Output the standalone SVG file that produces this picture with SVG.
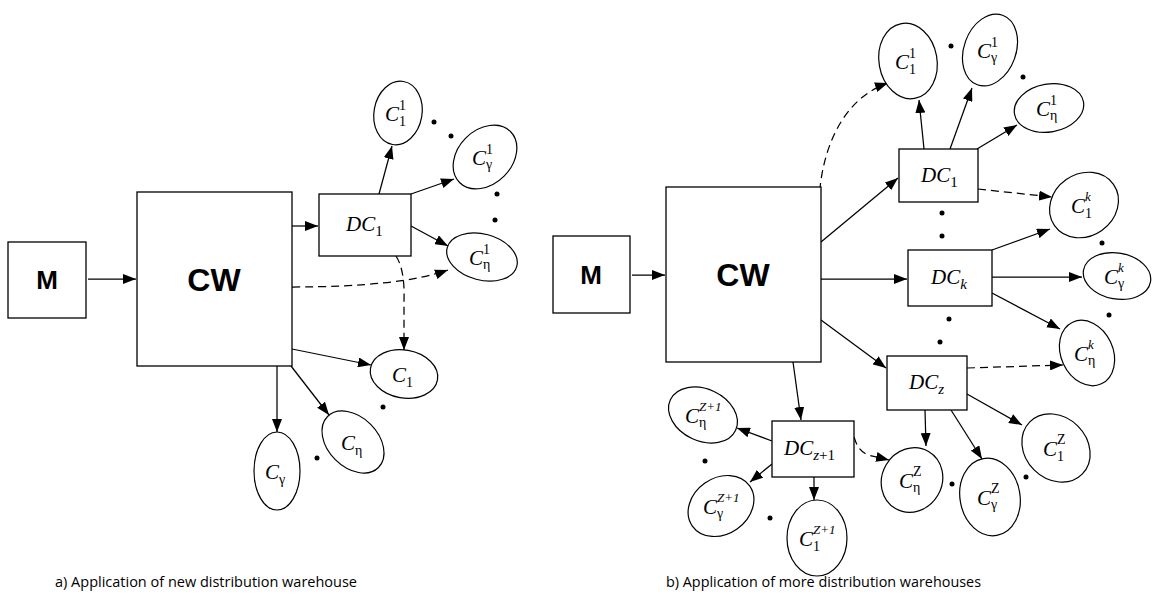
<svg xmlns="http://www.w3.org/2000/svg" width="1153" height="604" viewBox="0 0 1153 604">
<defs>
<marker id="ah" markerWidth="13" markerHeight="10" refX="13" refY="5" orient="auto" markerUnits="userSpaceOnUse">
<path d="M0,0 L13,5 L0,10 z" fill="#000"/>
</marker>
<style>
.box{fill:#fff;stroke:#000;stroke-width:1.3}
.ell{fill:#fff;stroke:#000;stroke-width:1.2}
.c{stroke:#000;stroke-width:1.25;fill:none;marker-end:url(#ah)}
.d{stroke-dasharray:8 5}
.big{font-family:"Liberation Sans",Arial,sans-serif;font-weight:bold;text-anchor:middle}
.cc{font-family:"Liberation Serif","Times New Roman",serif;font-style:italic;font-size:21px}
.s{font-family:"Liberation Serif","Times New Roman",serif;font-size:14px}
.si{font-family:"Liberation Serif","Times New Roman",serif;font-size:13px;font-style:italic}
.dcs{font-family:"Liberation Serif","Times New Roman",serif;font-size:15px;font-style:normal}
.dci{font-family:"Liberation Serif","Times New Roman",serif;font-size:15px;font-style:italic}
.cap{font-family:"Open Sans","Liberation Sans",sans-serif;font-size:14.5px}
.dot{fill:#000}
</style>
</defs>

<g id="connectors">
<path class="c" d="M88,279 L136,279"/>
<path class="c" d="M292,226 L318,226"/>
<path class="c" d="M379,194 L392,146"/>
<path class="c" d="M411,194 L454,179"/>
<path class="c" d="M411,226 L448,246"/>
<path class="c" d="M292,349 L371,365"/>
<path class="c" d="M291,366 L329,415"/>
<path class="c" d="M277,366 L277,432"/>
<path class="c d" d="M292,287 Q400,287 448,270"/>
<path class="c d" d="M396,256 Q405,270 404,300 L404,350"/>
<path class="c" d="M632,275 L665,275"/>
<path class="c" d="M821,242 L898,178"/>
<path class="c" d="M821,279 L907,279"/>
<path class="c" d="M821,320 L886,368"/>
<path class="c" d="M793,362 L801,420"/>
<path class="c" d="M924,149 L919,100"/>
<path class="c" d="M950,149 L972,88"/>
<path class="c" d="M977,149 L1017,125"/>
<path class="c d" d="M978,189 L1052,197"/>
<path class="c" d="M992,250 L1050,229"/>
<path class="c" d="M992,277 L1082,277"/>
<path class="c" d="M992,293 L1060,329"/>
<path class="c d" d="M967,368 L1063,365"/>
<path class="c" d="M967,394 L1022,425"/>
<path class="c" d="M951,410 L982,459"/>
<path class="c" d="M925,410 L926,446"/>
<path class="c" d="M772,441 L737,428"/>
<path class="c" d="M772,464 L750,482"/>
<path class="c" d="M814,477 L814,500"/>
<path class="c d" d="M854,437 C857,447 861,452 868,455 L889,460"/>
<path class="c d" d="M819,217 C817,160 838,100 888,83"/>
</g>

<g id="M_a"><rect class="box" x="8" y="242" width="78" height="76"/><text class="big" x="47" y="289" font-size="26">M</text></g>
<g id="CW_a"><rect class="box" x="137" y="192" width="155" height="174"/><text class="big" x="214" y="291" font-size="32">CW</text></g>
<g id="DC1_a"><rect class="box" x="319" y="194" width="92" height="62"/><text class="cc" x="346" y="231">DC<tspan class="dcs" dy="5">1</tspan></text></g>
<g id="C11_a"><ellipse class="ell" cx="398" cy="113" rx="24" ry="32" transform="rotate(10 398 113)"/><text class="cc" x="385" y="121">C</text><text class="s" x="399" y="110">1</text><text class="s" x="399" y="126">1</text></g>
<g id="Cg1_a"><ellipse class="ell" cx="485" cy="157" rx="36" ry="27" transform="rotate(-45 485 157)"/><text class="cc" x="472" y="165">C</text><text class="s" x="486" y="154">1</text><text class="s" x="486" y="169">γ</text></g>
<g id="Ce1_a"><ellipse class="ell" cx="482" cy="257" rx="36" ry="23" transform="rotate(15 482 257)"/><text class="cc" x="469" y="265">C</text><text class="s" x="483" y="254">1</text><text class="s" x="483" y="269">η</text></g>
<g id="C1_a"><ellipse class="ell" cx="404" cy="374" rx="34" ry="24" transform="rotate(10 404 374)"/><text class="cc" x="392" y="382">C</text><text class="s" x="406" y="387">1</text></g>
<g id="Ceta_a"><ellipse class="ell" cx="353" cy="442" rx="36" ry="25" transform="rotate(45 353 442)"/><text class="cc" x="341" y="450">C</text><text class="s" x="355" y="455">η</text></g>
<g id="Cgam_a"><ellipse class="ell" cx="277" cy="471" rx="23" ry="39"/><text class="cc" x="265" y="479">C</text><text class="s" x="279" y="484">γ</text></g>
<g id="dots_a">
<circle class="dot" cx="434" cy="122" r="2.5"/><circle class="dot" cx="451" cy="136" r="2.5"/>
<circle class="dot" cx="497" cy="194" r="2.5"/><circle class="dot" cx="495" cy="220" r="2.5"/>
<circle class="dot" cx="383" cy="407" r="2.5"/><circle class="dot" cx="317" cy="458" r="2.5"/>
</g>

<g id="M_b"><rect class="box" x="553" y="236" width="77" height="77"/><text class="big" x="591" y="284" font-size="26">M</text></g>
<g id="CW_b"><rect class="box" x="666" y="187" width="155" height="175"/><text class="big" x="743" y="286" font-size="32">CW</text></g>
<g id="DC1_b"><rect class="box" x="899" y="149" width="79" height="53"/><text class="cc" x="921" y="182">DC<tspan class="dcs" dy="5">1</tspan></text></g>
<g id="DCk_b"><rect class="box" x="908" y="250" width="84" height="56"/><text class="cc" x="931" y="284">DC<tspan class="dci" dy="5">k</tspan></text></g>
<g id="DCz_b"><rect class="box" x="887" y="356" width="80" height="54"/><text class="cc" x="909" y="389">DC<tspan class="dci" dy="5">z</tspan></text></g>
<g id="DCz1_b"><rect class="box" x="772" y="421" width="82" height="56"/><text class="cc" x="784" y="455">DC<tspan class="dci" dy="5">z</tspan><tspan class="dcs">+1</tspan></text></g>

<g id="C11_b"><ellipse class="ell" cx="908" cy="61" rx="29" ry="38" transform="rotate(-10 908 61)"/><text class="cc" x="895" y="69">C</text><text class="s" x="909" y="58">1</text><text class="s" x="909" y="74">1</text></g>
<g id="Cg1_b"><ellipse class="ell" cx="990" cy="50" rx="26" ry="37" transform="rotate(20 990 50)"/><text class="cc" x="977" y="58">C</text><text class="s" x="991" y="47">1</text><text class="s" x="991" y="62">γ</text></g>
<g id="Ce1_b"><ellipse class="ell" cx="1049" cy="108" rx="35" ry="24" transform="rotate(-10 1049 108)"/><text class="cc" x="1036" y="116">C</text><text class="s" x="1050" y="105">1</text><text class="s" x="1050" y="120">η</text></g>
<g id="C1k_b"><ellipse class="ell" cx="1084" cy="205" rx="36" ry="31" transform="rotate(-35 1084 205)"/><text class="cc" x="1071" y="213">C</text><text class="si" x="1085" y="201">k</text><text class="s" x="1085" y="218">1</text></g>
<g id="Cgk_b"><ellipse class="ell" cx="1117" cy="276" rx="34" ry="23" transform="rotate(10 1117 276)"/><text class="cc" x="1104" y="284">C</text><text class="si" x="1118" y="272">k</text><text class="s" x="1118" y="288">γ</text></g>
<g id="Cek_b"><ellipse class="ell" cx="1087" cy="353" rx="26" ry="34" transform="rotate(-25 1087 353)"/><text class="cc" x="1074" y="361">C</text><text class="si" x="1088" y="349">k</text><text class="s" x="1088" y="365">η</text></g>
<g id="C1Z_b"><ellipse class="ell" cx="1056" cy="448" rx="37" ry="31" transform="rotate(45 1056 448)"/><text class="cc" x="1043" y="456">C</text><text class="s" x="1057" y="444">Z</text><text class="s" x="1057" y="461">1</text></g>
<g id="CgZ_b"><ellipse class="ell" cx="990" cy="497" rx="30" ry="39" transform="rotate(-10 990 497)"/><text class="cc" x="977" y="505">C</text><text class="s" x="991" y="493">Z</text><text class="s" x="991" y="509">γ</text></g>
<g id="CeZ_b"><ellipse class="ell" cx="912" cy="480" rx="30" ry="33" transform="rotate(30 912 480)"/><text class="cc" x="899" y="488">C</text><text class="s" x="913" y="476">Z</text><text class="s" x="913" y="492">η</text></g>
<g id="CeZ1_b"><ellipse class="ell" cx="703" cy="415" rx="36" ry="26" transform="rotate(25 703 415)"/><text class="cc" x="685" y="423">C</text><text class="si" x="699" y="411">Z+1</text><text class="s" x="699" y="427">η</text></g>
<g id="CgZ1_b"><ellipse class="ell" cx="721" cy="506" rx="35" ry="28" transform="rotate(-35 721 506)"/><text class="cc" x="703" y="514">C</text><text class="si" x="717" y="502">Z+1</text><text class="s" x="717" y="518">γ</text></g>
<g id="C1Z1_b"><ellipse class="ell" cx="817" cy="538" rx="30" ry="38"/><text class="cc" x="799" y="546">C</text><text class="si" x="813" y="534">Z+1</text><text class="s" x="813" y="551">1</text></g>
<g id="dots_b">
<circle class="dot" cx="951" cy="46" r="2.5"/><circle class="dot" cx="1023" cy="77" r="2.5"/>
<circle class="dot" cx="942" cy="213" r="2.5"/><circle class="dot" cx="942" cy="236" r="2.5"/>
<circle class="dot" cx="1102" cy="243" r="2.5"/><circle class="dot" cx="1109" cy="315" r="2.5"/>
<circle class="dot" cx="949" cy="319" r="2.5"/><circle class="dot" cx="940" cy="342" r="2.5"/>
<circle class="dot" cx="1026" cy="477" r="2.5"/><circle class="dot" cx="952" cy="484" r="2.5"/>
<circle class="dot" cx="705" cy="461" r="2.5"/><circle class="dot" cx="770" cy="518" r="2.5"/>
</g>

<g id="captions">
<text class="cap" x="55" y="587" textLength="302" lengthAdjust="spacingAndGlyphs">a) Application of new distribution warehouse</text>
<text class="cap" x="666" y="587" textLength="315" lengthAdjust="spacingAndGlyphs">b) Application of more distribution warehouses</text>
</g>
</svg>
